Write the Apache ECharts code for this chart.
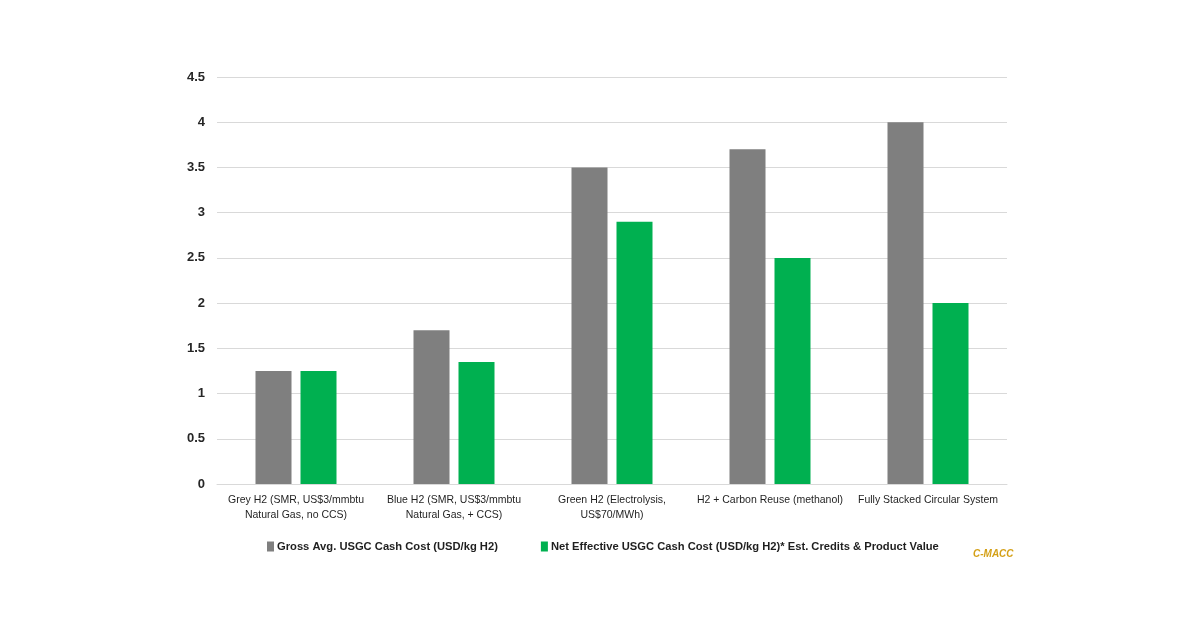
<!DOCTYPE html>
<html><head><meta charset="utf-8">
<script src="https://cdn.jsdelivr.net/npm/echarts@6/dist/echarts.min.js"></script>
<style>html,body{margin:0;padding:0;background:#fff}#c{width:1200px;height:627px}</style>
</head><body><div id="c"></div>
<script>
const categories = ["Grey H2 (SMR, US$3/mmbtu\nNatural Gas, no CCS)", "Blue H2 (SMR, US$3/mmbtu\nNatural Gas, + CCS)", "Green H2 (Electrolysis,\nUS$70/MWh)", "H2 + Carbon Reuse (methanol)", "Fully Stacked Circular System"];
const grossCost = [1.25, 1.7, 3.5, 3.7, 4.0];
const netCost = [1.25, 1.35, 2.9, 2.5, 2.0];
const seriesNames = ["Gross Avg. USGC Cash Cost (USD/kg H2)", "Net Effective USGC Cash Cost (USD/kg H2)* Est. Credits & Product Value"];
const FONT = "'Liberation Sans', Arial, sans-serif";
const chart = echarts.init(document.getElementById('c'));
chart.setOption({
  animation: false,
  textStyle: {fontFamily: FONT},
  grid: {left: 217, right: 193, top: 77, bottom: 143},
  legend: {
    left: 262, top: 536, itemWidth: 7, itemHeight: 10, itemGap: 43,
    icon: 'rect',
    textStyle: {fontFamily: FONT, fontSize: 11.2, fontWeight: 'bold', color: '#1f1f1f', padding: [0,0,0,-2]},
    data: seriesNames
  },
  graphic: [{type: 'text', left: 973, top: 549, style: {text: 'C-MACC', fill: '#d4a017', font: "italic bold 10px " + FONT}}],
  xAxis: {
    type: 'category', data: categories,
    axisLine: {lineStyle: {color: '#d9d9d9'}}, axisTick: {show: false},
    axisLabel: {color: '#1f1f1f', fontSize: 10.5, lineHeight: 15, margin: 9, interval: 0, fontFamily: FONT}
  },
  yAxis: {
    type: 'value', min: 0, max: 4.5, interval: 0.5,
    axisLine: {show: false}, axisTick: {show: false},
    splitLine: {lineStyle: {color: '#d9d9d9'}},
    axisLabel: {color: '#262626', fontSize: 13, fontWeight: 'bold', margin: 12, fontFamily: FONT}
  },
  series: [
    {name: seriesNames[0], type: 'bar', data: grossCost, barWidth: 36, barGap: '25%', itemStyle: {color: '#7f7f7f'}},
    {name: seriesNames[1], type: 'bar', data: netCost, barWidth: 36, itemStyle: {color: '#00b050'}}
  ]
});
</script></body></html>
